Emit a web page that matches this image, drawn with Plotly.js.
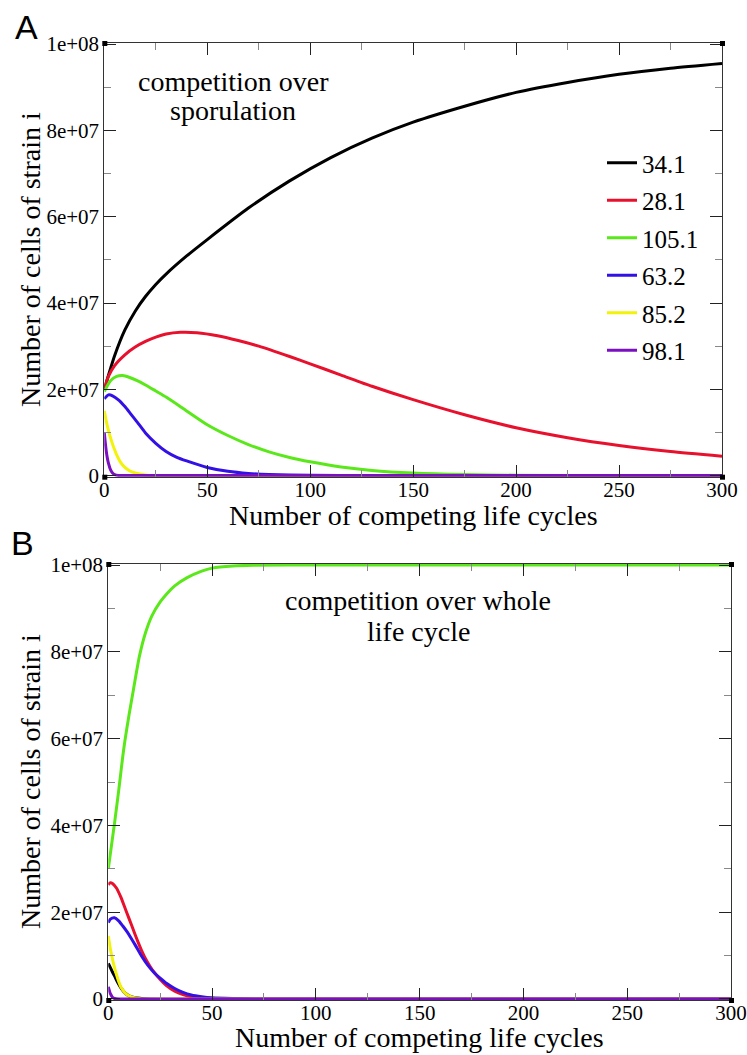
<!DOCTYPE html>
<html><head><meta charset="utf-8">
<script src="https://cdn.plot.ly/plotly-3.0.1.min.js"></script>
<style>html,body{margin:0;padding:0;background:#fff}#chart{width:747px;height:1055px}</style>
</head><body><div id="chart"></div>
<script>
// ---- labels ----
const strainNames = ['34.1', '28.1', '105.1', '63.2', '85.2', '98.1'];
const xTickVals = [0, 50, 100, 150, 200, 250, 300];
const yTickVals = [0, 2e7, 4e7, 6e7, 8e7, 1e8];
const yTickText = ['0', '2e+07', '4e+07', '6e+07', '8e+07', '1e+08'];
const xTitle = 'Number of competing life cycles';
const yTitle = 'Number of cells of strain i';
const noteA = ['competition over', 'sporulation'];
const noteB = ['competition over whole', 'life cycle'];

// ---- Panel A: competition over sporulation ----
const a341_x = [0, 5, 10, 15, 20, 25, 30, 40, 50, 70, 90, 110, 130, 150, 175, 200, 225, 250, 275, 300];
const a341_y = [2.0e7, 2.775e7, 3.375e7, 3.81e7, 4.15e7, 4.43e7, 4.67e7, 5.09e7, 5.47e7, 6.2e7, 6.83e7, 7.37e7, 7.82e7, 8.19e7, 8.56e7, 8.88e7, 9.11e7, 9.3e7, 9.44e7, 9.55e7];
const a281_x = [0, 2, 5, 10, 15, 20, 25, 30, 37, 45, 55, 65, 75, 90, 100, 115, 130, 150, 175, 200, 225, 250, 275, 300];
const a281_y = [2.0e7, 2.3e7, 2.55e7, 2.8e7, 2.98e7, 3.11e7, 3.21e7, 3.28e7, 3.32e7, 3.31e7, 3.24e7, 3.13e7, 3.0e7, 2.76e7, 2.59e7, 2.33e7, 2.07e7, 1.76e7, 1.41e7, 1.11e7, 0.88e7, 0.7e7, 0.56e7, 0.45e7];
const a1051_x = [0, 3, 6, 9, 12, 16, 20, 25, 30, 40, 50, 60, 70, 80, 90, 100, 115, 130, 150, 175, 200, 250, 300];
const a1051_y = [1.95e7, 2.2e7, 2.3e7, 2.32e7, 2.28e7, 2.2e7, 2.1e7, 1.96e7, 1.82e7, 1.5e7, 1.18e7, 0.93e7, 0.72e7, 0.55e7, 0.42e7, 0.32e7, 0.2e7, 0.12e7, 0.06e7, 0.025e7, 0.01e7, 0.002e7, 0];
const a632_x = [0, 2, 4, 7, 10, 13, 16, 20, 25, 30, 35, 40, 50, 60, 70, 80, 100, 125, 300];
const a632_y = [1.78e7, 1.87e7, 1.85e7, 1.75e7, 1.6e7, 1.42e7, 1.24e7, 0.99e7, 0.75e7, 0.56e7, 0.43e7, 0.34e7, 0.19e7, 0.1e7, 0.05e7, 0.025e7, 0.006e7, 0, 0];
const a852_x = [0, 1, 2, 3, 4, 5, 6, 8, 10, 12, 15, 20, 25, 300];
const a852_y = [1.5e7, 1.25e7, 1.05e7, 0.88e7, 0.73e7, 0.6e7, 0.48e7, 0.3e7, 0.19e7, 0.12e7, 0.06e7, 0.015e7, 0, 0];
const a981_x = [0, 0.5, 1, 1.5, 2, 3, 4, 5, 7, 10, 300];
const a981_y = [1.0e7, 0.75e7, 0.55e7, 0.4e7, 0.29e7, 0.14e7, 0.06e7, 0.025e7, 0.005e7, 0, 0];

// ---- Panel B: competition over whole life cycle ----
const b341_x = [0, 1, 2, 3, 4, 5, 6, 8, 10, 13, 18, 300];
const b341_y = [0.82e7, 0.72e7, 0.62e7, 0.53e7, 0.43e7, 0.34e7, 0.26e7, 0.14e7, 0.07e7, 0.025e7, 0, 0];
const b281_x = [0, 1, 2, 4, 6, 8, 10, 12, 14, 16, 18, 20, 22, 25, 28, 32, 36, 40, 45, 50, 60, 300];
const b281_y = [2.63e7, 2.68e7, 2.66e7, 2.55e7, 2.35e7, 2.1e7, 1.85e7, 1.6e7, 1.35e7, 1.12e7, 0.92e7, 0.76e7, 0.62e7, 0.45e7, 0.31e7, 0.18e7, 0.1e7, 0.05e7, 0.02e7, 0.007e7, 0, 0];
const b1051_x = [0, 1, 2, 3, 4, 5, 6, 7, 8, 10, 12, 15, 18, 21, 25, 28, 32, 38, 45, 50, 60, 70, 100, 300];
const b1051_y = [3.0e7, 3.35e7, 3.7e7, 4.05e7, 4.42e7, 4.8e7, 5.2e7, 5.6e7, 5.95e7, 6.55e7, 7.1e7, 7.9e7, 8.45e7, 8.83e7, 9.15e7, 9.33e7, 9.52e7, 9.71e7, 9.86e7, 9.93e7, 9.98e7, 9.995e7, 10.0e7, 10.0e7];
const b632_x = [0, 1, 3, 5, 7, 9, 11, 13, 16, 19, 22, 25, 28, 32, 36, 40, 45, 50, 60, 70, 300];
const b632_y = [1.76e7, 1.84e7, 1.87e7, 1.8e7, 1.68e7, 1.55e7, 1.4e7, 1.24e7, 0.99e7, 0.78e7, 0.61e7, 0.48e7, 0.36e7, 0.24e7, 0.15e7, 0.09e7, 0.05e7, 0.025e7, 0.008e7, 0, 0];
const b852_x = [0, 1, 2, 3, 4, 5, 6, 8, 10, 12, 15, 20, 300];
const b852_y = [1.45e7, 1.15e7, 0.92e7, 0.72e7, 0.55e7, 0.4e7, 0.28e7, 0.14e7, 0.07e7, 0.035e7, 0.01e7, 0, 0];
const b981_x = [0, 1, 2, 3, 5, 300];
const b981_y = [0.28e7, 0.12e7, 0.04e7, 0.01e7, 0, 0];

// ---- styling ----
const colors = ['#000000', '#e8112d', '#5ae81a', '#3311e6', '#f2f20a', '#7a10c0'];
const SERIF = 'Liberation Serif';
const SANS = 'Liberation Sans';
const W = 747, H = 1055;

function trace(x, y, i, xa, ya, show) {
  return {
    x: x, y: y, type: 'scatter', mode: 'lines', name: strainNames[i],
    legendgroup: 'g' + i, showlegend: show, xaxis: xa, yaxis: ya,
    line: {color: colors[i], width: 3, shape: 'spline', smoothing: 0.6},
    hoverinfo: 'skip'
  };
}

const panelA = [[a341_x, a341_y], [a281_x, a281_y], [a1051_x, a1051_y], [a632_x, a632_y], [a852_x, a852_y], [a981_x, a981_y]];
const panelB = [[b341_x, b341_y], [b281_x, b281_y], [b1051_x, b1051_y], [b632_x, b632_y], [b852_x, b852_y], [b981_x, b981_y]];

const data = [];
panelA.forEach((s, i) => data.push(trace(s[0], s[1], i, 'x', 'y', true)));
panelB.forEach((s, i) => data.push(trace(s[0], s[1], i, 'x2', 'y2', false)));

function xAxis(domain, anchor) {
  return {
    domain: domain, anchor: anchor, range: [0, 300],
    tickmode: 'array', tickvals: xTickVals,
    ticks: 'inside', ticklen: 12, tickwidth: 1, tickcolor: '#222',
    minor: {dtick: 25, tick0: 0, ticks: 'inside', ticklen: 7, tickwidth: 1, tickcolor: '#888', showgrid: false},
    showline: true, linecolor: '#333', linewidth: 1, mirror: 'ticks',
    showgrid: false, zeroline: false, ticklabeloverflow: 'allow', ticklabelstandoff: -6,
    tickfont: {family: SERIF, size: 21, color: '#000'}
  };
}
function yAxis(domain, anchor) {
  return {
    domain: domain, anchor: anchor, range: [-0.25e6, 1.0025e8],
    tickmode: 'array', tickvals: yTickVals, ticktext: yTickText,
    ticks: 'inside', ticklen: 12, tickwidth: 1, tickcolor: '#222',
    minor: {dtick: 1e7, tick0: 0, ticks: 'inside', ticklen: 7, tickwidth: 1, tickcolor: '#888', showgrid: false},
    showline: true, linecolor: '#333', linewidth: 1, mirror: 'ticks',
    showgrid: false, zeroline: false, ticklabeloverflow: 'allow',
    tickfont: {family: SERIF, size: 21, color: '#000'}
  };
}

function corners(xr, yr) {
  const out = [];
  [[0, 0], [0, 1], [1, 0], [1, 1]].forEach(c => {
    out.push({type: 'rect', xref: xr + ' domain', yref: yr + ' domain',
      xsizemode: 'pixel', ysizemode: 'pixel', xanchor: c[0], yanchor: c[1],
      x0: -2, x1: 3, y0: -3, y1: 2, fillcolor: '#000', line: {width: 0}});
  });
  return out;
}

const ann = (text, xpx, ypx, font, angle) => ({
  text: text, xref: 'paper', yref: 'paper', x: xpx / W, y: 1 - ypx / H,
  xanchor: 'center', yanchor: 'middle', showarrow: false, font: font, textangle: angle || 0,
  borderpad: 0
});
const noteFont = {family: SERIF, size: 28, color: '#000'};
const titleFont = {family: SERIF, size: 28, color: '#000'};
const labFont = {family: SANS, size: 34, color: '#000'};

const layout = {
  width: W, height: H, margin: {l: 0, r: 0, t: 0, b: 0},
  paper_bgcolor: '#fff', plot_bgcolor: '#fff', showlegend: true,
  font: {family: SERIF, color: '#000'},
  xaxis: xAxis([104.3 / W, 722 / W], 'y'),
  yaxis: yAxis([1 - 476.7 / H, 1 - 43 / H], 'x'),
  xaxis2: xAxis([108.3 / W, 731 / W], 'y2'),
  yaxis2: yAxis([1 - 1000 / H, 1 - 564 / H], 'x2'),
  legend: {x: 602 / W, y: 1 - 140 / H, xanchor: 'left', yanchor: 'top',
    font: {family: SERIF, size: 25, color: '#000'}, bgcolor: 'rgba(0,0,0,0)',
    borderwidth: 0, tracegroupgap: 2, itemwidth: 30},
  shapes: corners('x', 'y').concat(corners('x2', 'y2')),
  annotations: [
    ann('A', 26, 27, labFont),
    ann('B', 22, 543, labFont),
    ann(noteA[0], 233, 81, noteFont),
    ann(noteA[1], 233, 111, noteFont),
    ann(noteB[0], 418, 600, noteFont),
    ann(noteB[1], 418, 631, noteFont),
    ann(xTitle, 413, 516, titleFont),
    ann(xTitle, 419.5, 1037, titleFont),
    ann(yTitle, 30, 260, titleFont, -90),
    ann(yTitle, 30, 782, titleFont, -90)
  ]
};

Plotly.newPlot('chart', data, layout, {displayModeBar: false, staticPlot: true});
</script></body></html>
